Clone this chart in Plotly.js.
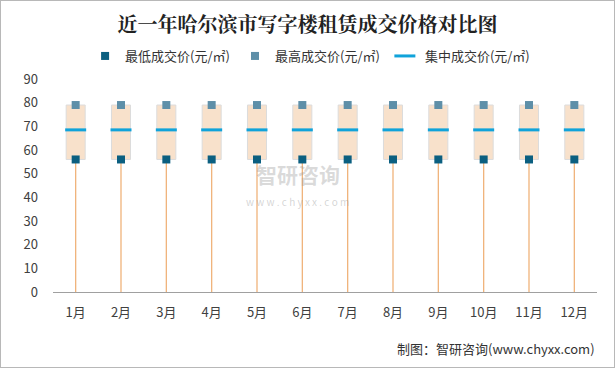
<!DOCTYPE html>
<html><head><meta charset="utf-8">
<script src="https://cdn.plot.ly/plotly-3.0.1.min.js"></script>
<style>body{margin:0;background:#fff}#c{width:613px;height:366px;border:1px solid #b8b8b8;}</style>
</head><body><div id="c"></div>
<script>
const months = ['1月','2月','3月','4月','5月','6月','7月','8月','9月','10月','11月','12月'];
const minPrice = [56,56,56,56,56,56,56,56,56,56,56,56];
const maxPrice = [79,79,79,79,79,79,79,79,79,79,79,79];
const midPrice = [68.5,68.5,68.5,68.5,68.5,68.5,68.5,68.5,68.5,68.5,68.5,68.5];
const yTicks = [0,10,20,30,40,50,60,70,80,90];

const stemX = [], stemY = [];
months.forEach((m,i)=>{ stemX.push(m,m,null); stemY.push(0,minPrice[i],null); });

const traces = [
  {type:'bar', x:months, base:minPrice, y:maxPrice.map((v,i)=>v-minPrice[i]), width:0.42,
   marker:{color:'#F8E1CB', line:{color:'#DCDCDC', width:1}}, showlegend:false, hoverinfo:'skip'},
  {type:'scatter', mode:'lines', x:stemX, y:stemY, line:{color:'#F0B37A', width:1.3}, showlegend:false, hoverinfo:'skip'},
  {type:'scatter', mode:'markers', name:'最低成交价(元/㎡)', x:months, y:minPrice,
   marker:{symbol:'square', size:8, color:'#0B5F80'}},
  {type:'scatter', mode:'markers', name:'最高成交价(元/㎡)', x:months, y:maxPrice,
   marker:{symbol:'square', size:8, color:'#5E8FA8'}},
  {type:'scatter', mode:'markers', name:'集中成交价(元/㎡)', x:months, y:midPrice,
   marker:{symbol:'line-ew', size:15, line:{width:3, color:'#10A3DA'}}}
];

const layout = {
  width:613, height:366,
  margin:{l:52, r:17, t:78, b:75},
  paper_bgcolor:'#fff', plot_bgcolor:'#fff',
  font:{family:'"Noto Sans CJK SC", "Microsoft YaHei", sans-serif', color:'#404040', size:12},
  title:{text:'<b>近一年哈尔滨市写字楼租赁成交价格对比图</b>', x:0.5, xanchor:'center', y:0.934, yanchor:'middle',
    font:{size:20, color:'#222', family:'"Noto Serif CJK SC", "Noto Sans CJK SC", serif'}},
  showlegend:true,
  legend:{orientation:'h', x:0.059, xanchor:'left', y:1.108, yanchor:'middle', font:{size:13, color:'#333'},
    itemwidth:20, tracegroupgap:0},
  xaxis:{type:'category', range:[-0.5,11.5], showgrid:false, showline:true, linecolor:'#a0a0a0', linewidth:1, ticks:'',
    tickfont:{size:13, color:'#404040'}, fixedrange:true, automargin:false, ticklabelstandoff:8},
  yaxis:{range:[0,90], tickvals:yTicks, showgrid:false, zeroline:false, showline:false, ticks:'',
    tickfont:{size:13, color:'#404040'}, ticklabelstandoff:14, automargin:false},
  annotations:[
    {xref:'paper', yref:'paper', x:1.0, y:-0.265, xanchor:'right', yanchor:'middle', showarrow:false,
     text:'制图：智研咨询(www.chyxx.com)', font:{size:13, color:'#333'}},
    {xref:'paper', yref:'paper', x:0.45, y:0.555, xanchor:'center', yanchor:'middle', showarrow:false,
     text:'<b>智研咨询</b>', font:{size:21, color:'rgba(150,150,150,0.35)'}},
    {xref:'paper', yref:'paper', x:0.45, y:0.425, xanchor:'center', yanchor:'middle', showarrow:false,
     text:'w w w . c h y x x . c o m', font:{size:10, color:'rgba(150,150,150,0.4)'}}
  ]
};
Plotly.newPlot('c', traces, layout, {displayModeBar:false, staticPlot:true});
</script></body></html>
